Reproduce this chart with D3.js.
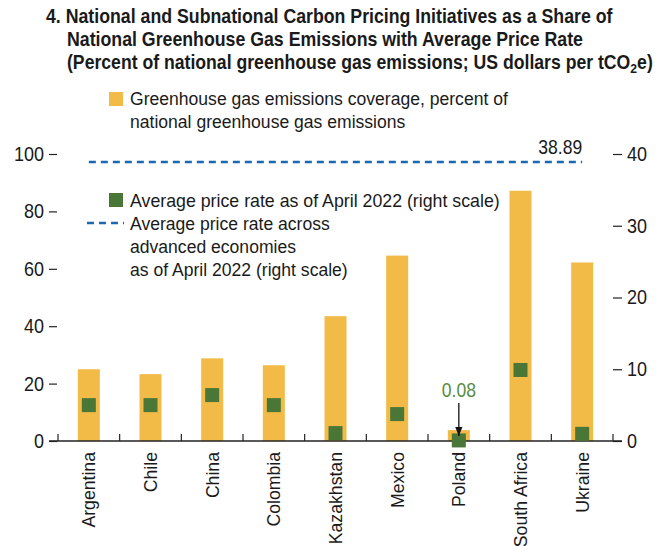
<!DOCTYPE html>
<html>
<head>
<meta charset="utf-8">
<script src="https://cdn.jsdelivr.net/npm/d3@7"></script>
<style>
  body { margin: 0; background: #fff; }
  svg text { font-family: "Liberation Sans", Arial, sans-serif; fill: #1a1a1a; }
</style>
</head>
<body>
<div class="chart"></div>
<script>
// data
var countries = ["Argentina", "Chile", "China", "Colombia", "Kazakhstan", "Mexico", "Poland", "South Africa", "Ukraine"];
var coverage = [25.0, 23.3, 28.8, 26.4, 43.5, 64.6, 3.8, 87.2, 62.2];   // percent of national GHG emissions
var priceRate = [5.0, 5.0, 6.4, 5.0, 1.1, 3.75, 0.08, 9.9, 1.0];        // US$ per tCO2e (right scale)
var advancedAvg = 38.89;
var leftTicks = [0, 20, 40, 60, 80, 100];
var rightTicks = [0, 10, 20, 30, 40];

var w = 662, h = 546;
var orange = "#f2bb47", green = "#4a7637", blue = "#1b69b2";

var svg = d3.select(".chart").append("svg")
  .attr("width", w)
  .attr("height", h);

// condensed look: squeeze text horizontally
var txt = function(g, x, y, s, size, sx, anchor){
  return g.append("text")
    .attr("transform", "translate(" + x + "," + y + ") scale(" + sx + ",1)")
    .attr("text-anchor", anchor || "start")
    .style("font-size", size + "px")
    .text(s);
};

var x = d3.scaleBand().domain(countries).range([58, 613]);
var yL = d3.scaleLinear().domain([0, 100]).range([441, 154]);
var yR = d3.scaleLinear().domain([0, 40]).range([441, 154]);

// title
var tt = svg.append("g").style("font-weight", "bold");
txt(tt, 46, 23, "4. National and Subnational Carbon Pricing Initiatives as a Share of", 19.5, 0.91);
txt(tt, 67, 46, "National Greenhouse Gas Emissions with Average Price Rate", 19.5, 0.91);
var t3 = txt(tt, 67, 69, "(Percent of national greenhouse gas emissions; US dollars per tCO", 19.5, 0.905);
t3.append("tspan").attr("dy", 4).style("font-size", "13.5px").text("2");
t3.append("tspan").attr("dy", -4).text("e)");

// bars
svg.selectAll(".bar").data(countries)
  .enter().append("rect")
  .attr("class", "bar")
  .attr("x", function(d){ return x(d) + x.bandwidth()/2 - 11; })
  .attr("width", 22)
  .attr("y", function(d, i){ return yL(coverage[i]); })
  .attr("height", function(d, i){ return yL(0) - yL(coverage[i]); })
  .style("fill", orange);

// advanced economies average (dashed)
var xFirst = x(countries[0]) + x.bandwidth()/2;
var xLast = x(countries[countries.length-1]) + x.bandwidth()/2;
svg.append("line")
  .attr("x1", xFirst).attr("x2", xLast)
  .attr("y1", yR(advancedAvg)).attr("y2", yR(advancedAvg))
  .style("stroke", blue)
  .style("stroke-width", 2.5)
  .style("stroke-dasharray", "7,5");
txt(svg, xLast, yR(advancedAvg) - 8, advancedAvg.toFixed(2), 19.5, 0.9, "end");

// baseline + category ticks
svg.append("line")
  .attr("x1", 49).attr("x2", 622)
  .attr("y1", yL(0)).attr("y2", yL(0))
  .style("stroke", "#222").style("stroke-width", 1.5);

var bounds = countries.map(function(d){ return x(d); }).concat([x.range()[1]]);
svg.selectAll(".ctick").data(bounds)
  .enter().append("line")
  .attr("x1", function(d){ return d; }).attr("x2", function(d){ return d; })
  .attr("y1", yL(0)).attr("y2", yL(0) - 7)
  .style("stroke", "#222").style("stroke-width", 1.2);

// price squares
svg.selectAll(".sq").data(countries)
  .enter().append("rect")
  .attr("class", "sq")
  .attr("x", function(d){ return x(d) + x.bandwidth()/2 - 7; })
  .attr("y", function(d, i){ return yR(priceRate[i]) - 7; })
  .attr("width", 14).attr("height", 14)
  .style("fill", green);

// Poland annotation
var px = x("Poland") + x.bandwidth()/2;
svg.append("defs").append("marker")
  .attr("id", "arr").attr("viewBox", "0 0 10 10")
  .attr("refX", 10).attr("refY", 5)
  .attr("markerWidth", 7).attr("markerHeight", 7)
  .attr("orient", "auto")
  .append("path").attr("d", "M0,1 L10,5 L0,9 Z").style("fill", "#111");
svg.append("line")
  .attr("x1", px).attr("x2", px)
  .attr("y1", 403).attr("y2", 436)
  .style("stroke", "#111").style("stroke-width", 1.3)
  .attr("marker-end", "url(#arr)");
txt(svg, px, 397, priceRate[countries.indexOf("Poland")].toFixed(2), 19.5, 0.9, "middle")
  .style("fill", "#5b8c40");

// axes
var left = svg.append("g")
  .attr("transform", "translate(57,0)")
  .call(d3.axisLeft(yL).tickValues(leftTicks).tickSize(8).tickPadding(5));
var right = svg.append("g")
  .attr("transform", "translate(613,0)")
  .call(d3.axisRight(yR).tickValues(rightTicks).tickSize(9).tickPadding(5));
[left, right].forEach(function(g){
  g.select(".domain").remove();
  g.selectAll("line").style("stroke", "#222").style("stroke-width", 1.2);
  g.selectAll("text").each(function(){
    var t = d3.select(this);
    var tx = +t.attr("x");
    t.attr("x", 0)
      .attr("transform", "translate(" + tx + ",0) scale(0.9,1)")
      .style("font-size", "20px").style("fill", "#1a1a1a");
  });
  g.attr("font-family", null).attr("font-size", null);
});

// category labels
svg.selectAll(".clab").data(countries)
  .enter().append("text")
  .attr("transform", function(d){ return "translate(" + (x(d) + x.bandwidth()/2) + ",452) rotate(-90) scale(0.93,1)"; })
  .attr("text-anchor", "end")
  .attr("dy", "0.35em")
  .style("font-size", "19px")
  .text(function(d){ return d; });

// legend
var lg = svg.append("g");
lg.append("rect").attr("x", 109).attr("y", 92).attr("width", 14).attr("height", 14).style("fill", orange);
txt(lg, 130, 105, "Greenhouse gas emissions coverage, percent of", 18.5, 0.95);
txt(lg, 130, 128, "national greenhouse gas emissions", 18.5, 0.95);

lg.append("rect").attr("x", 109).attr("y", 193).attr("width", 14).attr("height", 14).style("fill", green);
txt(lg, 130, 207, "Average price rate as of April 2022 (right scale)", 18.5, 0.96);

lg.append("line").attr("x1", 87).attr("x2", 124).attr("y1", 223).attr("y2", 223)
  .style("stroke", blue).style("stroke-width", 2.5).style("stroke-dasharray", "7,5");
txt(lg, 130, 230, "Average price rate across", 18.5, 0.95);
txt(lg, 130, 253, "advanced economies", 18.5, 0.95);
txt(lg, 130, 276, "as of April 2022 (right scale)", 18.5, 0.95);
</script>
</body>
</html>
